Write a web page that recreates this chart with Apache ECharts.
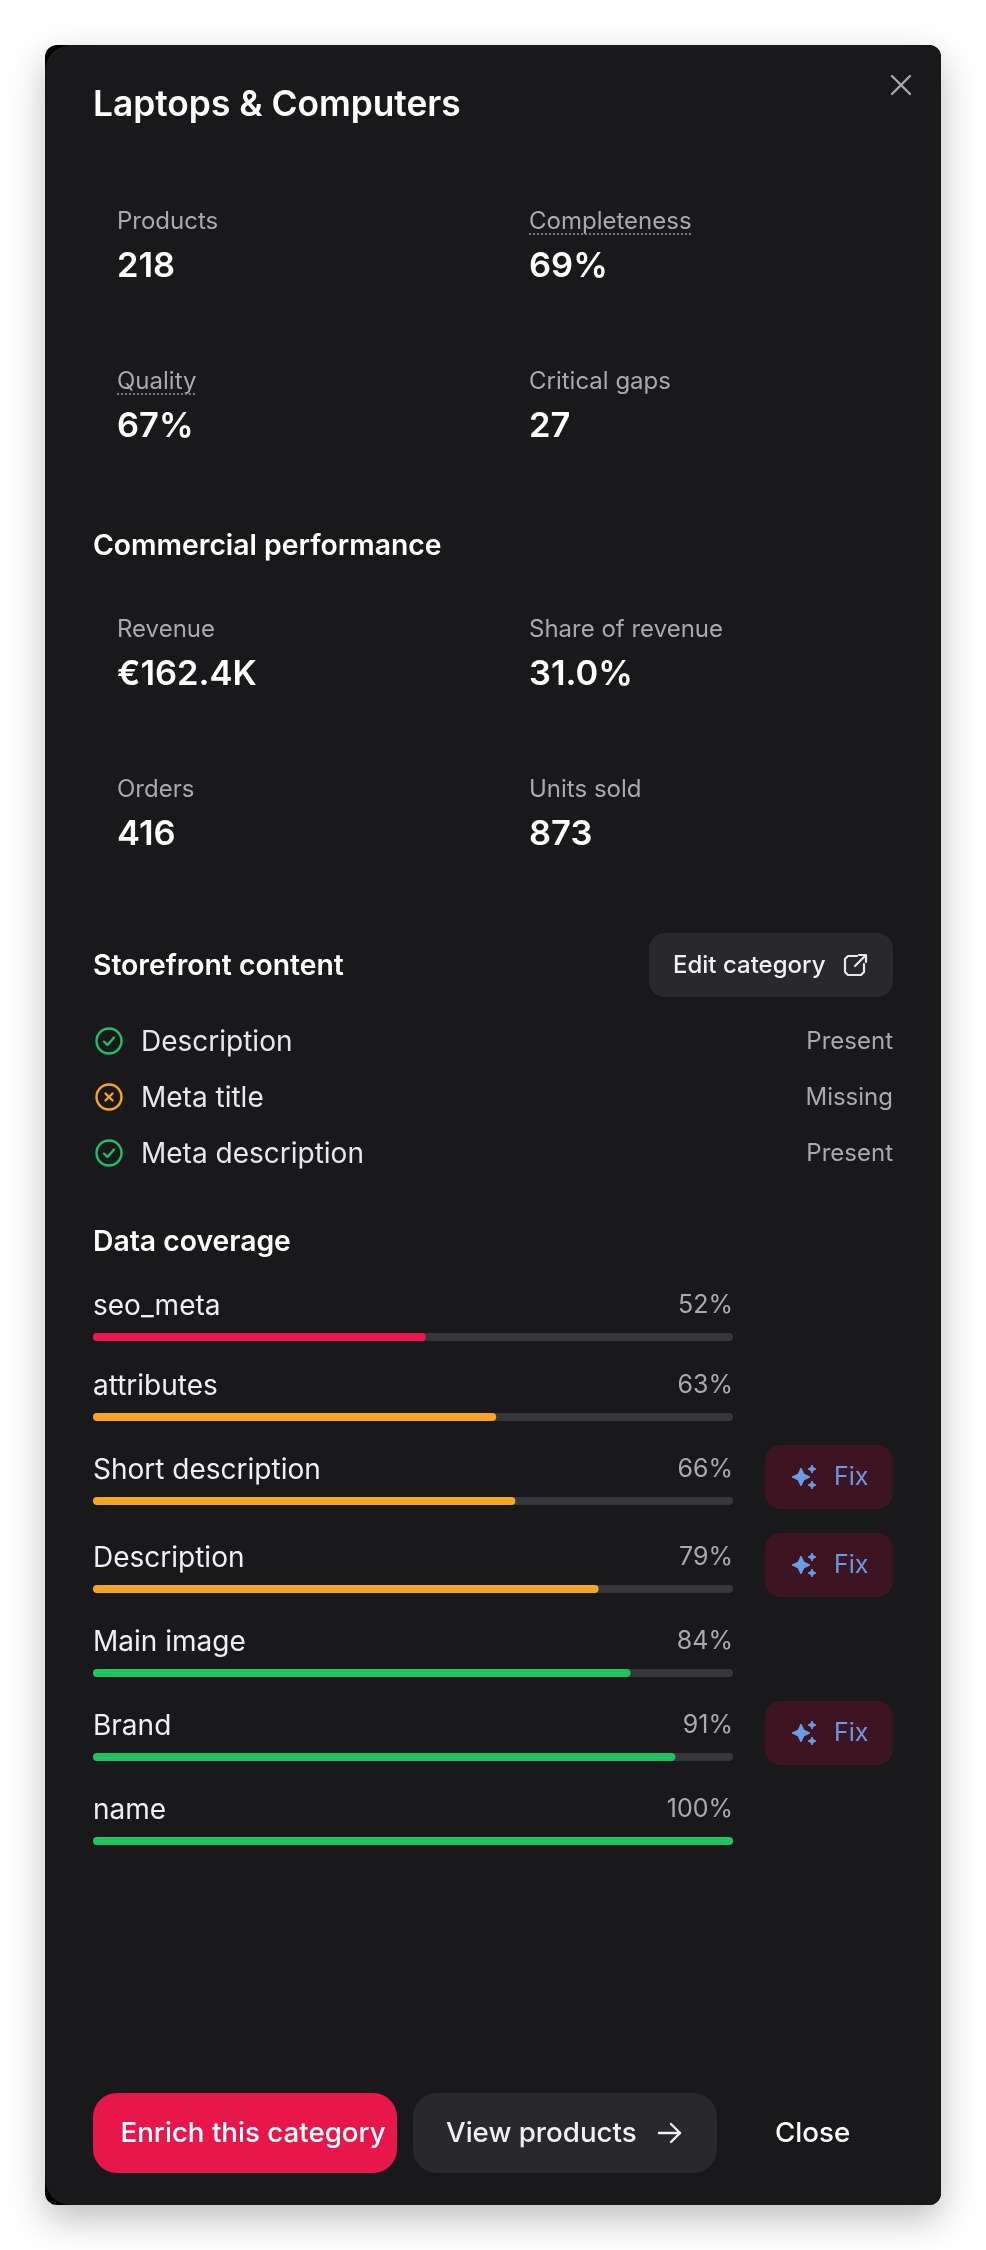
<!DOCTYPE html>
<html lang="en">
<head>
    <meta charset="UTF-8">
    <title>Laptops &amp; Computers</title>
    <script src="https://cdn.jsdelivr.net/npm/echarts@6/dist/echarts.min.js"></script>
    <style>
        html, body { margin: 0; padding: 0; background: #fff; }
    </style>
</head>
<body>
<div id="main" style="width: 986px;height:2250px;"></div>
<script type="text/javascript">
    // data
    var panelTitle = 'Laptops & Computers';
    var catalogLabels = ['Products', 'Completeness', 'Quality', 'Critical gaps'];
    var catalogValues = ['218', '69%', '67%', '27'];
    var commercialLabels = ['Revenue', 'Share of revenue', 'Orders', 'Units sold'];
    var commercialValues = ['€162.4K', '31.0%', '416', '873'];
    var contentFields = ['Description', 'Meta title', 'Meta description'];
    var contentStatus = ['Present', 'Missing', 'Present'];
    var coverageNames = ['seo_meta', 'attributes', 'Short description', 'Description', 'Main image', 'Brand', 'name'];
    var coverageValues = [52, 63, 66, 79, 84, 91, 100];
    var coverageFixable = [false, false, true, true, false, true, false];

    // layout, separate from the values
    var barTops = [1333, 1413, 1497, 1585, 1669, 1753, 1837];
    var fixTops = [0, 0, 1445, 1533, 0, 1701, 0];
    var FONT = 'Inter, "Noto Sans", sans-serif';

    function barColor(v) {
        if (v < 60) return '#f0144f';
        if (v < 80) return '#f5a623';
        return '#1dc460';
    }

    function txt(x, y, text, size, weight, color, align) {
        return {
            type: 'text', x: x, y: y, silent: true,
            style: {
                text: text, fontFamily: FONT, fontSize: size, fontWeight: weight,
                fill: color, align: align || 'left', verticalAlign: 'middle'
            }
        };
    }

    function box(x, y, w, h, r, color) {
        return {type: 'rect', shape: {x: x, y: y, width: w, height: h, r: r}, style: {fill: color}, silent: true};
    }

    // icon strokes
    function poly(points, color, lw) {
        return {
            type: 'polyline', silent: true,
            shape: {points: points},
            style: {fill: 'none', stroke: color, lineWidth: lw, lineCap: 'round', lineJoin: 'round'}
        };
    }

    // four pointed star, used for the sparkle on the Fix buttons
    function star(cx, cy, r, color) {
        var k = r * 0.32;
        return {
            type: 'polygon', silent: true,
            shape: {points: [[cx - r, cy], [cx - k, cy - k], [cx, cy - r], [cx + k, cy - k], [cx + r, cy], [cx + k, cy + k], [cx, cy + r], [cx - k, cy + k]]},
            style: {fill: color, stroke: color, lineWidth: 1, lineJoin: 'round'}
        };
    }

    var g = [];

    // panel, black corners on the left come from the under layer
    g.push({
        type: 'rect', shape: {x: 45, y: 45, width: 896, height: 2160, r: 12},
        style: {fill: '#000', shadowBlur: 36, shadowColor: 'rgba(0,0,0,0.26)', shadowOffsetY: 14}, silent: true
    });
    g.push(box(45, 45, 896, 2160, [26, 12, 12, 26], '#19191b'));

    g.push(txt(93, 105.5, panelTitle, 35.3, 600, '#fff'));
    g.push(poly([[892, 76], [910, 94]], '#a8a8ac', 2.4));
    g.push(poly([[910, 76], [892, 94]], '#a8a8ac', 2.4));

    function statBlock(labels, values, y1, y2) {
        var cols = [117, 529];
        labels.forEach(function (name, i) {
            var x = cols[i % 2];
            var y = i < 2 ? y1 : y2;
            g.push(txt(x, y + 1, name, 24, 400, '#a9a9ae'));
            g.push(txt(x, y + 46, values[i], 34.5, 600, '#fff'));
        });
    }
    statBlock(catalogLabels, catalogValues, 221, 381);
    statBlock(commercialLabels, commercialValues, 629, 789);

    // dotted underlines on the metrics with a hint
    [[529, 692, 234], [117, 195, 394]].forEach(function (u) {
        g.push({
            type: 'line', silent: true,
            shape: {x1: u[0], y1: u[2], x2: u[1], y2: u[2]},
            style: {stroke: '#77777c', lineWidth: 2, lineDash: [2, 2]}
        });
    });

    g.push(txt(93, 546, 'Commercial performance', 28.3, 600, '#fff'));
    g.push(txt(93, 966, 'Storefront content', 28.3, 600, '#fff'));
    g.push(txt(93, 1242, 'Data coverage', 28.3, 600, '#fff'));

    g.push(box(649, 933, 244, 64, 16, '#29292d'));
    g.push(txt(673, 965.5, 'Edit category', 24, 500, '#f0f0f2'));
    g.push(poly([[857, 956], [848, 956], [845, 959], [845, 972], [848, 975], [861, 975], [864, 972], [864, 964]], '#e8e8ea', 2.2));
    g.push(poly([[855, 966], [865, 956]], '#e8e8ea', 2.2));
    g.push(poly([[859, 955], [866, 955], [866, 962]], '#e8e8ea', 2.2));

    contentFields.forEach(function (name, i) {
        var y = 1041 + i * 56;
        var ok = contentStatus[i] === 'Present';
        var c = ok ? '#1fbf68' : '#f5a623';
        g.push({type: 'circle', silent: true, shape: {cx: 109, cy: y, r: 12.5}, style: {fill: 'none', stroke: c, lineWidth: 2.4}});
        if (ok) {
            g.push(poly([[104, y + 0.5], [107.5, y + 4], [114, y - 3.5]], c, 2.4));
        } else {
            g.push(poly([[105.5, y - 3.5], [112.5, y + 3.5]], c, 2.4));
            g.push(poly([[112.5, y - 3.5], [105.5, y + 3.5]], c, 2.4));
        }
        g.push(txt(141, y + 1.5, name, 28, 400, '#e8e8ea'));
        g.push(txt(893, y + 1, contentStatus[i], 24, 400, '#a9a9ae', 'right'));
    });

    // coverage rows: one small grid per row, each has its own value axis
    var grids = [], xAxes = [], yAxes = [], series = [];
    coverageValues.forEach(function (v, i) {
        grids.push({left: 93, width: 640, top: barTops[i], height: 8});
        xAxes.push({type: 'value', gridIndex: i, min: 0, max: 100, show: false});
        yAxes.push({type: 'category', gridIndex: i, data: [coverageNames[i]], show: false});
        series.push({
            type: 'bar', xAxisIndex: i, yAxisIndex: i, barWidth: 8, silent: true,
            data: [v],
            itemStyle: {color: barColor(v), borderRadius: 4},
            showBackground: true,
            backgroundStyle: {color: '#37373b', borderRadius: 4}
        });
        g.push(txt(93, barTops[i] - 26.5, coverageNames[i], 28, 400, '#f0f0f2'));
        g.push(txt(733, barTops[i] - 28, v + '%', 25, 400, '#a9a9ae', 'right'));
        if (coverageFixable[i]) {
            var top = fixTops[i];
            g.push(box(765, top, 128, 64, 16, '#3d1522'));
            g.push(star(801, top + 32, 9, '#6b9ae6'));
            g.push(star(812, top + 24, 4, '#6b9ae6'));
            g.push(star(812, top + 40, 4, '#6b9ae6'));
            g.push(txt(834, top + 32, 'Fix', 25, 400, '#6b9ae6'));
        }
    });

    // footer buttons
    g.push(box(93, 2093, 304, 80, 24, '#e8174b'));
    g.push(txt(120.5, 2134, 'Enrich this category', 27.7, 500, '#fff'));
    g.push(box(413, 2093, 304, 80, 24, '#29292d'));
    g.push(txt(446, 2134, 'View products', 27.7, 500, '#f0f0f2'));
    g.push(poly([[659, 2133], [680, 2133]], '#f0f0f2', 2.4));
    g.push(poly([[671, 2124], [680, 2133], [671, 2142]], '#f0f0f2', 2.4));
    g.push(txt(775, 2134, 'Close', 27.7, 500, '#fff'));

    var myChart = echarts.init(document.getElementById('main'));
    myChart.setOption({
        backgroundColor: '#fff',
        animation: false,
        grid: grids,
        xAxis: xAxes,
        yAxis: yAxes,
        graphic: {elements: g.map(function (e) { e.z = -1; return e; })},
        series: series
    });
</script>
</body>
</html>
